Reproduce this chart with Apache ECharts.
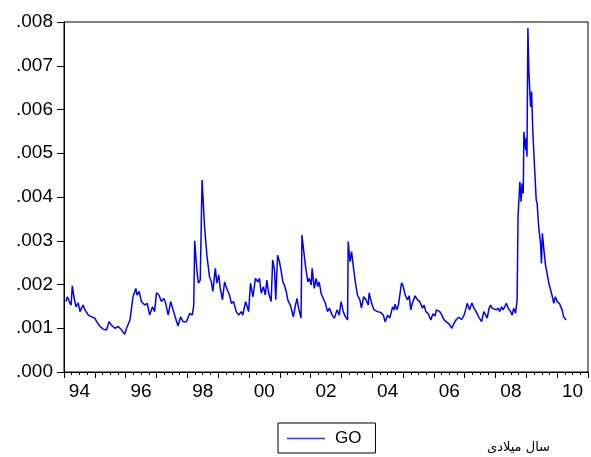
<!DOCTYPE html>
<html>
<head>
<meta charset="utf-8">
<script src="https://cdn.jsdelivr.net/npm/echarts@6/dist/echarts.min.js"></script>
<style>
  html, body { margin: 0; padding: 0; background: #fff; }
  #chart { width: 591px; height: 457px; }
</style>
</head>
<body>
<div id="chart"></div>
<script>
// dates as decimal years
let dates = [
  1994.06, 1994.11, 1994.17, 1994.23, 1994.27, 1994.32, 1994.39, 1994.46, 1994.52, 1994.57,
  1994.62, 1994.68, 1994.79, 1994.90, 1995.00, 1995.06, 1995.17, 1995.27, 1995.38, 1995.46,
  1995.54, 1995.65, 1995.76, 1995.87, 1995.97, 1996.03, 1996.14, 1996.19, 1996.24, 1996.33,
  1996.37, 1996.44, 1996.51, 1996.62, 1996.70, 1996.78, 1996.87, 1996.94, 1997.00, 1997.08,
  1997.16, 1997.24, 1997.30, 1997.38, 1997.46, 1997.54, 1997.62, 1997.70, 1997.78, 1997.86,
  1997.97, 1998.08, 1998.16, 1998.21, 1998.24, 1998.31, 1998.36, 1998.42, 1998.48, 1998.56,
  1998.64, 1998.72, 1998.78, 1998.83, 1998.91, 1998.96, 1999.02, 1999.07, 1999.14, 1999.21,
  1999.28, 1999.37, 1999.43, 1999.50, 1999.59, 1999.67, 1999.75, 1999.80, 1999.89, 1999.99,
  2000.05, 2000.13, 2000.21, 2000.29, 2000.34, 2000.40, 2000.47, 2000.53, 2000.58, 2000.64,
  2000.72, 2000.77, 2000.83, 2000.87, 2000.93, 2000.99, 2001.04, 2001.10, 2001.15, 2001.21,
  2001.26, 2001.34, 2001.40, 2001.44, 2001.51, 2001.56, 2001.61, 2001.69, 2001.72, 2001.78,
  2001.83, 2001.91, 2001.96, 2002.02, 2002.05, 2002.12, 2002.18, 2002.23, 2002.28, 2002.34,
  2002.41, 2002.48, 2002.55, 2002.61, 2002.70, 2002.77, 2002.86, 2002.93, 2002.99, 2003.06,
  2003.13, 2003.20, 2003.22, 2003.28, 2003.33, 2003.38, 2003.45, 2003.52, 2003.60, 2003.65,
  2003.72, 2003.80, 2003.87, 2003.90, 2003.98, 2004.06, 2004.17, 2004.28, 2004.36, 2004.42,
  2004.50, 2004.57, 2004.66, 2004.71, 2004.74, 2004.80, 2004.85, 2004.90, 2004.95, 2005.00,
  2005.07, 2005.14, 2005.20, 2005.25, 2005.30, 2005.39, 2005.47, 2005.54, 2005.63, 2005.68,
  2005.74, 2005.82, 2005.90, 2005.97, 2006.04, 2006.08, 2006.14, 2006.19, 2006.26, 2006.33,
  2006.40, 2006.49, 2006.58, 2006.65, 2006.73, 2006.81, 2006.90, 2006.98, 2007.03, 2007.08,
  2007.16, 2007.23, 2007.30, 2007.37, 2007.46, 2007.55, 2007.62, 2007.73, 2007.79, 2007.84,
  2007.89, 2007.95, 2008.02, 2008.09, 2008.13, 2008.20, 2008.24, 2008.30, 2008.35, 2008.41,
  2008.49, 2008.54, 2008.59, 2008.65, 2008.70, 2008.73, 2008.79, 2008.83, 2008.86, 2008.90,
  2008.92, 2008.95, 2008.98, 2009.00, 2009.02, 2009.05, 2009.08, 2009.11, 2009.14, 2009.17,
  2009.21, 2009.26, 2009.32, 2009.35, 2009.40, 2009.46, 2009.49, 2009.52, 2009.57, 2009.62,
  2009.67, 2009.73, 2009.78, 2009.83, 2009.89, 2009.94, 2010.00, 2010.07, 2010.12, 2010.16,
  2010.21, 2010.29
];

let goValues = [
  .00161, .00172, .00161, .00153, .00197, .00172, .00149, .00158, .00138, .00146,
  .00153, .00142, .00130, .00126, .00123, .00115, .00104, .00098, .00096, .00115,
  .00107, .00100, .00104, .00096, .00086, .00100, .00119, .00146, .00172, .00191,
  .00176, .00184, .00161, .00153, .00157, .00130, .00149, .00138, .00181, .00176,
  .00161, .00168, .00157, .00130, .00161, .00142, .00123, .00105, .00126, .00115,
  .00115, .00134, .00130, .00153, .00300, .00233, .00203, .00210, .00439, .00332,
  .00264, .00218, .00206, .00184, .00237, .00203, .00222, .00191, .00165, .00206,
  .00191, .00176, .00157, .00161, .00138, .00130, .00138, .00130, .00161, .00138,
  .00203, .00172, .00214, .00206, .00214, .00180, .00195, .00176, .00210, .00180,
  .00161, .00256, .00233, .00165, .00267, .00252, .00233, .00206, .00199, .00184,
  .00165, .00153, .00138, .00126, .00153, .00168, .00146, .00123, .00313, .00275,
  .00245, .00206, .00214, .00199, .00237, .00191, .00214, .00195, .00206, .00180,
  .00168, .00157, .00138, .00146, .00130, .00123, .00142, .00130, .00161, .00138,
  .00126, .00119, .00298, .00252, .00275, .00245, .00206, .00176, .00165, .00146,
  .00172, .00165, .00153, .00181, .00157, .00142, .00138, .00136, .00130, .00115,
  .00130, .00123, .00149, .00142, .00155, .00142, .00153, .00153, .00204, .00197,
  .00176, .00165, .00174, .00142, .00157, .00174, .00165, .00161, .00146, .00153,
  .00138, .00133, .00119, .00133, .00128, .00142, .00146, .00138, .00130, .00119,
  .00115, .00110, .00100, .00111, .00120, .00125, .00120, .00130, .00142, .00157,
  .00142, .00158, .00146, .00138, .00125, .00115, .00138, .00123, .00146, .00153,
  .00146, .00149, .00142, .00146, .00138, .00149, .00142, .00149, .00157, .00146,
  .00138, .00130, .00146, .00134, .00165, .00355, .00435, .00389, .00431, .00408,
  .00549, .00553, .00507, .00534, .00492, .00786, .00690, .00645, .00606, .00641,
  .00549, .00477, .00393, .00386, .00332, .00294, .00248, .00317, .00279, .00245,
  .00241, .00203, .00206, .00176, .00157, .00172, .00161, .00157, .00153, .00142,
  .00126, .00119
];

let yearLabelsShown = ['94', '96', '98', '00', '02', '04', '06', '08', '10'];

let seriesData = dates.map((d, i) => [d, goValues[i]]);

const chart = echarts.init(document.getElementById('chart'), null, { renderer: 'canvas' });

const font = 'Liberation Sans';

const option = {
    backgroundColor: '#fff',
    animation: false,
    grid: {
        left: 64,
        right: 2,
        top: 22,
        bottom: 85,
        show: true,
        borderColor: '#000',
        borderWidth: 1,
        backgroundColor: '#fff'
    },
    legend: {
        left: 278,
        top: 423,
        data: [{ name: 'GO', icon: 'rect' }],
        borderColor: '#000',
        borderWidth: 1,
        padding: [7, 14, 6, 9],
        itemWidth: 38,
        itemHeight: 1.5,
        textStyle: {
            fontFamily: font,
            fontSize: 17,
            color: '#000',
            padding: [0, 0, 0, 5]
        }
    },
    xAxis: [
        {
            // ticks: yearly major, quarterly minor
            type: 'value',
            min: 1994,
            max: 2011,
            interval: 1,
            axisLine: { show: true, lineStyle: { color: '#000', width: 1 } },
            axisTick: { show: true, length: 6, lineStyle: { color: '#000' } },
            minorTick: { show: true, splitNumber: 4, length: 3, lineStyle: { color: '#000' } },
            axisLabel: { show: false },
            splitLine: { show: false }
        },
        {
            // year labels centered in the middle of each labeled year
            type: 'value',
            min: 1994,
            max: 2011,
            interval: 0.5,
            position: 'bottom',
            axisLine: { show: false },
            axisTick: { show: false },
            splitLine: { show: false },
            axisLabel: {
                margin: 10,
                fontFamily: font,
                fontSize: 19,
                color: '#000',
                formatter: function (v) {
                    let y = Math.floor(v);
                    if (Math.abs(v - y - 0.5) > 1e-6) return '';
                    let lbl = String(y % 100).padStart(2, '0');
                    return yearLabelsShown.indexOf(lbl) >= 0 && (y % 2 === 0) ? lbl : '';
                }
            }
        }
    ],
    yAxis: {
        type: 'value',
        min: 0,
        max: 0.008,
        interval: 0.001,
        axisLine: { show: true, lineStyle: { color: '#000', width: 1 } },
        axisTick: { show: true, length: 7, lineStyle: { color: '#000' } },
        splitLine: { show: false },
        axisLabel: {
            margin: 11,
            fontFamily: font,
            fontSize: 19,
            color: '#000',
            formatter: function (v) {
                return v.toFixed(3).replace(/^0/, '');
            }
        }
    },
    series: [
        {
            name: 'GO',
            type: 'line',
            xAxisIndex: 0,
            symbol: 'none',
            lineStyle: { color: '#0000ff', width: 1.5 },
            itemStyle: { color: '#3333ff' },
            data: seriesData
        }
    ],
    graphic: [
        {
            type: 'text',
            right: 41,
            top: 441,
            style: {
                text: 'سال میلادی',
                fontFamily: 'DejaVu Sans',
                fontSize: 13,
                fill: '#000'
            }
        }
    ]
};
chart.setOption(option);
</script>
</body>
</html>
